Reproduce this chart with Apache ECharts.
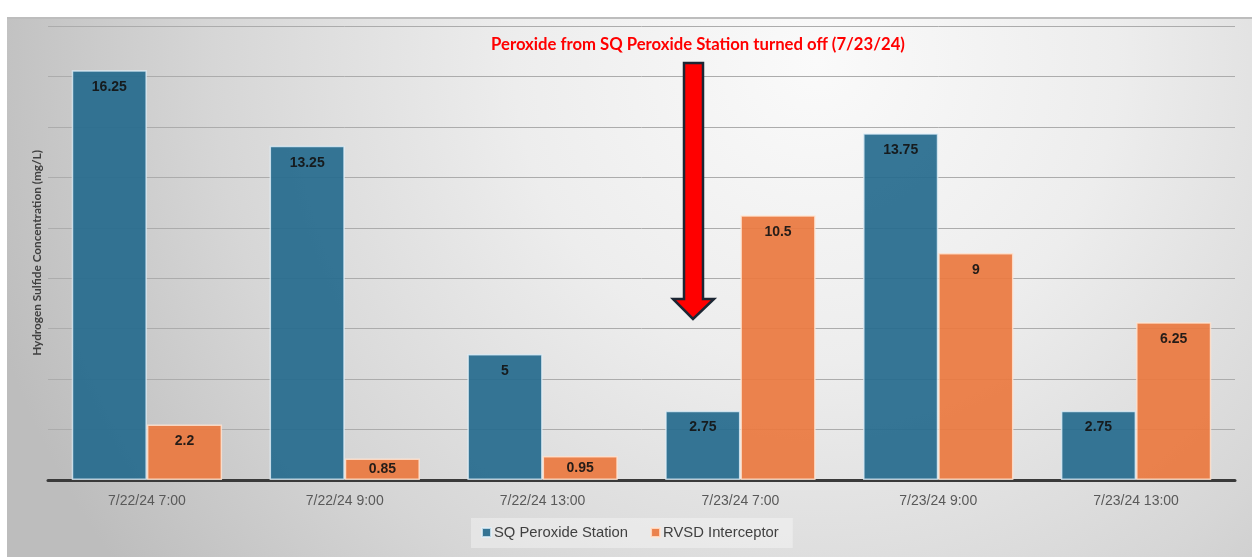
<!DOCTYPE html>
<html>
<head>
<meta charset="utf-8">
<title>Hydrogen Sulfide Concentration</title>
<script src="https://cdn.jsdelivr.net/npm/echarts@6/dist/echarts.min.js"></script>
<style>
  html, body { margin: 0; padding: 0; background: #ffffff; }
  #chart { width: 1252px; height: 557px; }
</style>
</head>
<body>
<div id="chart"></div>
<script>
// Sampling times
const categories = ['7/22/24 7:00', '7/22/24 9:00', '7/22/24 13:00', '7/23/24 7:00', '7/23/24 9:00', '7/23/24 13:00'];
// H2S concentration, mg/L
const sqStation = [16.25, 13.25, 5, 2.75, 13.75, 2.75];
const rvsdInterceptor = [2.2, 0.85, 0.95, 10.5, 9, 6.25];
const seriesNames = ['SQ Peroxide Station', 'RVSD Interceptor'];
const annotationText = 'Peroxide from SQ Peroxide Station turned off (7/23/24)';
const yAxisTitle = 'Hydrogen Sulfide Concentration (mg/L)';

const chart = echarts.init(document.getElementById('chart'));

// short bars get their value centred instead of pinned to the top
function withLabels(values) {
  return values.map(v => v < 1.4
    ? { value: v, label: { position: 'inside', distance: 0 } }
    : v);
}

const labelStyle = {
  show: true,
  position: 'insideTop',
  distance: 10,
  fontFamily: 'Liberation Sans, Arial, sans-serif',
  fontWeight: 'bold',
  fontSize: 14,
  color: '#141414'
};

chart.setOption({
  animation: false,
  backgroundColor: '#ffffff',
  textStyle: { fontFamily: 'Liberation Sans Narrow, Liberation Sans, sans-serif' },
  graphic: [
    {
      type: 'rect',
      z: -10,
      silent: true,
      shape: { x: 7, y: 18, width: 1245, height: 539 },
      style: {
        fill: {
          type: 'radial', x: 0.65, y: 0.08, r: 1.6,
          colorStops: [
            { offset: 0, color: '#fafafa' },
            { offset: 0.35, color: '#ededed' },
            { offset: 0.7, color: '#d6d6d6' },
            { offset: 1, color: '#bdbdbd' }
          ]
        }
      }
    },
    {
      type: 'line',
      z: -9,
      silent: true,
      shape: { x1: 7, y1: 18, x2: 1252, y2: 18 },
      style: { stroke: '#bdbdbd', lineWidth: 2 }
    },
    {
      type: 'text',
      z: 20,
      x: 698,
      y: 45,
      style: {
        text: annotationText,
        fill: '#ff0000',
        font: 'bold 16.7px Lato, "Open Sans", sans-serif',
        align: 'center',
        verticalAlign: 'middle'
      }
    },
    {
      type: 'polygon',
      z: 20,
      shape: {
        points: [[684, 63], [703, 63], [703, 299], [714, 299], [693, 319], [673, 299], [684, 299]]
      },
      style: { fill: '#ff0000', stroke: '#1c2633', lineWidth: 2.5, lineJoin: 'miter' }
    }
  ],
  legend: {
    data: seriesNames,
    left: 471,
    top: 518,
    padding: [7, 14, 8, 10],
    backgroundColor: 'rgba(255,255,255,0.35)',
    itemWidth: 9,
    itemHeight: 9,
    itemGap: 22,
    icon: 'rect',
    textStyle: { fontFamily: 'Liberation Sans Narrow, Liberation Sans, sans-serif', fontSize: 14.8, color: '#404040', padding: [0, 0, 0, -2] }
  },
  grid: { left: 48, right: 17, top: 26, bottom: 77, containLabel: false },
  xAxis: {
    type: 'category',
    data: categories,
    axisLine: { show: true, lineStyle: { color: '#3a3a3a', width: 3 } },
    axisTick: { show: false },
    axisLabel: {
      margin: 14,
      fontSize: 14,
      color: '#595959',
      fontFamily: 'Liberation Sans Narrow, Liberation Sans, sans-serif'
    }
  },
  yAxis: {
    type: 'value',
    min: 0,
    max: 18,
    interval: 2,
    name: yAxisTitle,
    nameLocation: 'middle',
    nameRotate: 90,
    nameGap: 5,
    nameTextStyle: { fontFamily: 'Lato, "Open Sans", sans-serif', fontSize: 11.8, fontWeight: 'bold', color: '#404040' },
    axisLine: { show: false },
    axisTick: { show: false },
    axisLabel: { show: false },
    splitLine: { show: true, lineStyle: { color: '#acacac', width: 1 } }
  },
  series: [
    {
      name: seriesNames[0],
      type: 'bar',
      data: withLabels(sqStation),
      barGap: '0%',
      barCategoryGap: '24%',
      itemStyle: { color: '#256a8d', opacity: 0.92, borderColor: 'rgba(225,240,248,0.85)', borderWidth: 1.5 },
      label: labelStyle
    },
    {
      name: seriesNames[1],
      type: 'bar',
      data: withLabels(rvsdInterceptor),
      itemStyle: { color: '#ea783f', opacity: 0.92, borderColor: 'rgba(255,228,210,0.9)', borderWidth: 1.5 },
      label: labelStyle
    }
  ]
});
</script>
</body>
</html>
